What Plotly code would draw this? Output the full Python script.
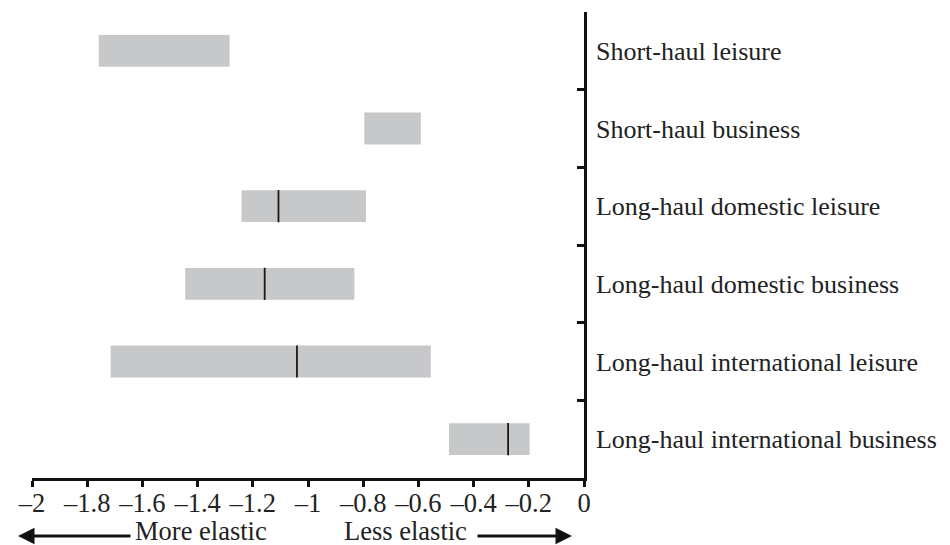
import plotly.graph_objects as go

categories = [
    "Short-haul leisure",
    "Short-haul business",
    "Long-haul domestic leisure",
    "Long-haul domestic business",
    "Long-haul international leisure",
    "Long-haul international business",
]
low = [-1.758, -0.796, -1.241, -1.445, -1.715, -0.489]
high = [-1.284, -0.591, -0.790, -0.832, -0.555, -0.197]
median_cats = [
    "Long-haul domestic leisure",
    "Long-haul domestic business",
    "Long-haul international leisure",
    "Long-haul international business",
]
median_vals = [-1.107, -1.157, -1.040, -0.275]

tick_vals = [-2, -1.8, -1.6, -1.4, -1.2, -1, -0.8, -0.6, -0.4, -0.2, 0]
tick_text = ["\u20132", "\u20131.8", "\u20131.6", "\u20131.4", "\u20131.2", "\u20131",
             "\u20130.8", "\u20130.6", "\u20130.4", "\u20130.2", "0"]

FONT = "Liberation Serif"
FS = 26.5
# page has an 8px body margin; figure is sized/offset to compensate
W, H = 942, 537
L, R, T, B = 24, 366, 4, 67
PW = W - L - R
PH = H - T - B

def px_x(page_x):
    return (page_x - 8 - L) / PW

def px_y(page_y):
    return (H - B - (page_y - 8)) / PH

fig = go.Figure()
fig.add_trace(go.Bar(
    y=categories,
    x=[h - l for h, l in zip(high, low)],
    base=low,
    orientation="h",
    width=0.41,
    marker=dict(color="#c7c8ca", line=dict(width=0)),
    hoverinfo="skip",
))
fig.add_trace(go.Scatter(
    y=median_cats,
    x=median_vals,
    mode="markers",
    marker=dict(symbol="line-ns", size=23, line=dict(width=1.8, color="#1a1a1a")),
    hoverinfo="skip",
))

fig.update_layout(
    width=W, height=H,
    margin=dict(l=L, r=R, t=T, b=B),
    paper_bgcolor="white", plot_bgcolor="white",
    showlegend=False,
    font=dict(family=FONT, size=FS, color="#222"),
    xaxis=dict(
        range=[-2, 0], tickvals=tick_vals, ticktext=tick_text,
        showgrid=False, zeroline=False,
        showline=True, linewidth=2.5, linecolor="#111",
        ticks="outside", ticklen=6, tickwidth=2.5, tickcolor="#111",
        ticklabelstandoff=-7,
        tickfont=dict(family=FONT, size=FS, color="#222"),
    ),
    yaxis=dict(
        type="category", categoryorder="array", categoryarray=categories,
        range=[5.5, -0.5], side="right",
        showgrid=False, zeroline=False,
        showline=True, linewidth=2.5, linecolor="#111",
        ticks="inside", ticklen=7, tickwidth=2.5, tickcolor="#111",
        tickson="boundaries", ticklabelstandoff=4,
        tickfont=dict(family=FONT, size=26, color="#222"),
    ),
)

TEXT_Y = 531
ARROW_Y = 536
fig.add_annotation(x=px_x(201), y=px_y(TEXT_Y), xref="paper", yref="paper",
                   xanchor="center", yanchor="middle",
                   text="More elastic", showarrow=False,
                   font=dict(family=FONT, size=FS, color="#222"))
fig.add_annotation(x=px_x(405), y=px_y(TEXT_Y), xref="paper", yref="paper",
                   xanchor="center", yanchor="middle",
                   text="Less elastic", showarrow=False,
                   font=dict(family=FONT, size=FS, color="#222"))
fig.add_annotation(x=px_x(18), y=px_y(ARROW_Y), xref="paper", yref="paper",
                   text="", showarrow=True, ax=114, ay=0,
                   arrowhead=2, arrowsize=1.1, arrowwidth=3, arrowcolor="#111")
fig.add_annotation(x=px_x(572), y=px_y(ARROW_Y), xref="paper", yref="paper",
                   text="", showarrow=True, ax=-96, ay=0,
                   arrowhead=2, arrowsize=1.1, arrowwidth=3, arrowcolor="#111")

fig.write_html("out.html")
